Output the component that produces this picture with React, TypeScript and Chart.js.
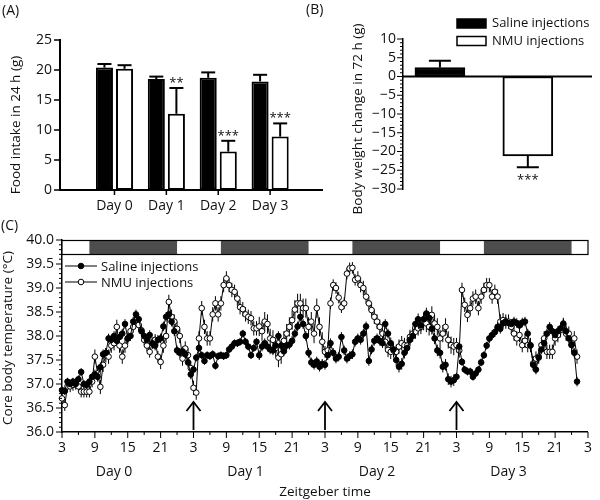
import React, { useEffect, useRef } from "react";
import { Chart, registerables } from "chart.js";

Chart.register(...registerables);

const FONT_FAMILY = '"Open Sans", "Noto Sans", "DejaVu Sans", sans-serif';
const INK = "#111";

// ---------- Panel A: food intake in 24 h ----------
const foodDays = ["Day 0", "Day 1", "Day 2", "Day 3"];
const foodSaline = [20.4, 18.5, 18.7, 18.1];
const foodSalineErr = [0.6, 0.4, 0.9, 1.1];
const foodNmu = [20.2, 12.7, 6.4, 8.9];
const foodNmuErr = [0.6, 4.3, 1.8, 2.2];
const foodNmuStars = ["", "**", "***", "***"];
const foodTicks = [0, 5, 10, 15, 20, 25];

// ---------- Panel B: body weight change in 72 h ----------
const weightGroups = ["Saline injections", "NMU injections"];
const weightChange = [2.4, -21.2];
const weightErr = [1.8, 3.0];
const weightStars = ["", "***"];
const weightTicks = [-30, -25, -20, -15, -10, -5, 0, 5, 10];

// ---------- Panel C: core body temperature ----------
const tempStartZT = 3;
const tempStepHours = 0.5;
const salineTemp = [
  36.87, 36.85, 37.05, 37.0, 37.05, 37.0, 37.1, 37.25, 37.0, 36.98, 37.05, 37.15, 37.2, 37.15, 37.35, 37.62, 37.65, 37.95, 37.92, 38.0, 37.9, 37.98, 38.05, 38.25,
  37.95, 38.0, 38.3, 38.45, 38.35, 38.1, 38.0, 37.92, 38.02, 37.85, 37.8, 37.92, 37.95, 38.2, 38.4, 38.45, 38.3, 38.1, 37.7, 37.65, 37.68, 37.62, 37.45, 37.2,
  37.3, 37.55, 37.75, 37.6, 37.48, 37.6, 37.58, 37.62, 37.38, 37.58, 37.6, 37.58, 37.6, 37.72, 37.78, 37.85, 37.85, 37.88, 38.05, 37.88, 37.78, 37.6, 37.75, 37.88,
  37.6, 37.78, 37.85, 37.78, 37.72, 37.7, 37.8, 38.0, 37.8, 37.68, 37.8, 37.82, 37.9, 38.05, 38.2, 38.4, 38.25, 38.0, 37.65, 37.45, 37.4, 37.47, 37.36, 37.42,
  37.4, 37.6, 37.85, 37.65, 37.53, 37.57, 37.98, 37.7, 37.53, 37.58, 37.62, 37.88, 37.95, 37.92, 38.05, 38.2, 37.48, 37.72, 37.9, 37.95, 37.9, 37.85, 38.25, 38.05,
  37.85, 37.72, 37.5, 37.36, 37.42, 37.65, 37.75, 37.92, 38.0, 38.25, 38.35, 38.22, 38.35, 38.47, 38.38, 38.15, 37.95, 37.7, 37.65, 37.36, 37.4, 37.1, 37.05, 37.08,
  37.15, 37.78, 37.46, 37.3, 37.26, 37.26, 37.15, 37.22, 37.3, 37.45, 37.6, 37.8, 37.95, 38.02, 38.08, 38.19, 38.15, 38.27, 38.3, 38.27, 38.25, 38.3, 38.27, 38.22,
  38.28, 38.3, 38.05, 37.8, 37.4, 37.3, 37.55, 37.72, 37.85, 38.05, 38.19, 38.1, 38.02, 38.1, 38.16, 38.26, 38.1, 37.95, 37.82, 37.65, 37.05,
];
const nmuTemp = [
  36.7, 36.56, 36.95, 36.95, 36.98, 37.0, 36.95, 36.84, 36.84, 36.84, 36.84, 37.05, 37.57, 37.22, 36.94, 37.4, 37.6, 37.57, 37.8, 37.85, 38.19, 37.8, 37.57, 37.8,
  37.95, 38.1, 38.19, 38.33, 38.23, 38.12, 37.92, 37.8, 37.67, 37.85, 37.92, 37.57, 37.46, 37.8, 38.0, 38.71, 38.4, 38.3, 38.15, 38.0, 37.53, 37.74, 37.6, 37.33,
  36.92, 36.82, 37.95, 38.58, 38.19, 37.95, 37.95, 38.45, 38.68, 38.45, 38.68, 39.06, 39.2, 39.06, 38.96, 38.92, 38.78, 38.6, 38.56, 38.45, 38.4, 38.37, 38.16, 38.16,
  38.2, 38.1, 38.3, 38.25, 37.95, 37.92, 37.75, 37.55, 37.62, 37.9, 38.05, 38.19, 38.33, 38.55, 38.68, 38.68, 38.58, 38.58, 38.19, 38.3, 38.05, 38.58, 38.19, 37.88,
  37.67, 37.7, 38.68, 39.06, 39.0, 38.8, 38.6, 38.68, 39.3, 39.41, 39.42, 39.17, 39.2, 39.06, 39.0, 38.82, 38.68, 38.54, 38.4, 38.3, 38.19, 38.05, 37.88, 37.71,
  37.67, 37.7, 37.67, 37.78, 37.85, 37.81, 37.8, 37.98, 38.05, 38.09, 38.16, 38.19, 38.3, 38.26, 38.19, 38.44, 38.26, 38.19, 37.95, 38.05, 38.19, 37.92, 37.81, 37.78,
  37.81, 37.7, 38.96, 38.65, 38.44, 38.58, 38.78, 38.82, 38.58, 38.82, 38.96, 39.06, 39.06, 38.82, 38.92, 38.82, 38.3, 38.33, 38.3, 38.3, 38.19, 38.05, 37.95, 38.02,
  37.81, 37.9, 37.81, 37.81, 37.43, 37.53, 37.57, 37.81, 37.95, 37.67, 37.67, 37.67, 37.95, 38.02, 38.12, 38.23, 38.05, 38.05, 37.81, 37.95, 37.57,
];
// typical SEM read per 6-hour block
const semBlockHours = 6;
const salineSem = [0.08, 0.1, 0.1, 0.1, 0.08, 0.08, 0.1, 0.1, 0.1, 0.1, 0.12, 0.12, 0.08, 0.1, 0.1, 0.1];
const nmuSem = [0.12, 0.15, 0.12, 0.15, 0.15, 0.15, 0.2, 0.2, 0.12, 0.15, 0.15, 0.18, 0.15, 0.15, 0.15, 0.15];
const tempTicks = [36, 36.5, 37, 37.5, 38, 38.5, 39, 39.5, 40];
const tempMinorStep = 0.1;
const ztTicks = [3, 9, 15, 21, 27, 33, 39, 45, 51, 57, 63, 69, 75, 81, 87, 93, 99];
const ztMinorStep = 3;
const darkPhases = [[8, 24], [32, 48], [56, 72], [80, 96]];
const injectionZT = [27, 51, 75];
const dayLabels = ["Day 0", "Day 1", "Day 2", "Day 3"];
const dayLabelZT = 12.5;

// ---------- helpers ----------
function seg(ctx: any, x1: number, y1: number, x2: number, y2: number, w: number) {
  ctx.lineWidth = w;
  ctx.beginPath();
  ctx.moveTo(x1, y1);
  ctx.lineTo(x2, y2);
  ctx.stroke();
}

function text(ctx: any, s: string, x: number, y: number, size: number, align: string = "center", rotate = false) {
  ctx.save();
  ctx.font = `${size}px ${FONT_FAMILY}`;
  ctx.fillStyle = INK;
  ctx.textAlign = align;
  ctx.textBaseline = "middle";
  ctx.translate(x, y);
  if (rotate) ctx.rotate(-Math.PI / 2);
  ctx.fillText(s, 0, 0);
  ctx.restore();
}

const tickFont = { family: FONT_FAMILY, size: 14 };

// ---------- plugins ----------
const panelAPlugin = {
  id: "panelA",
  afterDraw(chart: any) {
    const { ctx, chartArea: ca } = chart;
    const xs = chart.scales.x;
    const ys = chart.scales.y;
    ctx.save();
    ctx.strokeStyle = "#000";
    foodTicks.forEach((v) => {
      const py = ys.getPixelForValue(v);
      seg(ctx, ca.left - 6, py, ca.left, py, 1.5);
    });
    foodDays.forEach((_, i) => {
      const px = xs.getPixelForValue(i);
      seg(ctx, px, ca.bottom, px, ca.bottom + 5, 1.5);
    });
    const vals = [foodSaline, foodNmu];
    const errs = [foodSalineErr, foodNmuErr];
    vals.forEach((arr, di) => {
      const meta = chart.getDatasetMeta(di);
      meta.data.forEach((el: any, i: number) => {
        const yTop = ys.getPixelForValue(arr[i] + errs[di][i]);
        const yBar = ys.getPixelForValue(arr[i]);
        seg(ctx, el.x, yBar, el.x, yTop, 2);
        seg(ctx, el.x - 7, yTop, el.x + 7, yTop, 2);
        if (di === 1 && foodNmuStars[i]) text(ctx, foodNmuStars[i], el.x, yTop - 5, 13);
      });
    });
    ctx.restore();
    text(ctx, "Food intake in 24 h (g)", 16, 125, 13.5, "center", true);
    text(ctx, "(A)", 2, 11, 14, "left");
  },
};

const panelBPlugin = {
  id: "panelB",
  afterDraw(chart: any) {
    const { ctx, chartArea: ca } = chart;
    const ys = chart.scales.y;
    ctx.save();
    ctx.strokeStyle = "#000";
    for (let v = weightTicks[0]; v <= weightTicks[weightTicks.length - 1]; v += 1) {
      const py = ys.getPixelForValue(v);
      seg(ctx, ca.left - (v % 5 === 0 ? 6 : 3), py, ca.left, py, 1);
    }
    const y0 = ys.getPixelForValue(0);
    seg(ctx, ca.left, y0, ca.right, y0, 2);
    weightChange.forEach((v, i) => {
      const el = chart.getDatasetMeta(i).data[0];
      const end = v >= 0 ? v + weightErr[i] : v - weightErr[i];
      const yEnd = ys.getPixelForValue(end);
      seg(ctx, el.x, ys.getPixelForValue(v), el.x, yEnd, 2);
      seg(ctx, el.x - 11, yEnd, el.x + 11, yEnd, 2);
      if (weightStars[i]) text(ctx, weightStars[i], el.x, yEnd + 13, 13);
    });
    // legend
    const fills = ["#000", "#fff"];
    weightGroups.forEach((g, i) => {
      const y = 23.5 + i * 17.5;
      ctx.fillStyle = fills[i];
      ctx.fillRect(157, y - 4.5, 29, 9);
      ctx.lineWidth = 1.5;
      ctx.strokeRect(157, y - 4.5, 29, 9);
      text(ctx, g, 192, y, 13, "left");
    });
    ctx.restore();
    text(ctx, "Body weight change in 72 h (g)", 58, 119, 13.5, "center", true);
    text(ctx, "(B)", 6, 10, 14, "left");
  },
};

const panelCPlugin = {
  id: "panelC",
  beforeDatasetsDraw(chart: any) {
    const { ctx } = chart;
    const ys = chart.scales.y;
    ctx.save();
    ctx.strokeStyle = "#000";
    const series = [
      [salineTemp, salineSem],
      [nmuTemp, nmuSem],
    ];
    series.forEach(([vals, sem]: any, di: number) => {
      const meta = chart.getDatasetMeta(di);
      meta.data.forEach((pt: any, i: number) => {
        const s = sem[Math.min(sem.length - 1, Math.floor((i * tempStepHours) / semBlockHours))];
        seg(ctx, pt.x, ys.getPixelForValue(vals[i] - s), pt.x, ys.getPixelForValue(vals[i] + s), 1);
      });
    });
    ctx.restore();
  },
  afterDraw(chart: any) {
    const { ctx, chartArea: ca } = chart;
    const xs = chart.scales.x;
    const ys = chart.scales.y;
    ctx.save();
    ctx.strokeStyle = "#000";
    // y ticks
    const nY = Math.round((ys.max - ys.min) / tempMinorStep);
    for (let k = 0; k <= nY; k++) {
      const py = ys.getPixelForValue(ys.min + k * tempMinorStep);
      seg(ctx, ca.left - (k % 5 === 0 ? 6 : 3), py, ca.left, py, 1);
    }
    // x ticks
    for (let h = xs.min; h <= xs.max; h += ztMinorStep) {
      const px = xs.getPixelForValue(h);
      const major = ztTicks.includes(h);
      seg(ctx, px, ca.bottom, px, ca.bottom + (major ? 6 : 3), 1);
    }
    // light / dark bar
    const barH = 14;
    ctx.fillStyle = "#fff";
    ctx.fillRect(ca.left, ca.top, ca.right - ca.left, barH);
    ctx.fillStyle = "#4d4d4d";
    darkPhases.forEach(([a, b]) => {
      const x1 = xs.getPixelForValue(Math.max(a, xs.min));
      const x2 = xs.getPixelForValue(Math.min(b, xs.max));
      ctx.fillRect(x1, ca.top, x2 - x1, barH);
    });
    ctx.lineWidth = 1.2;
    ctx.strokeRect(ca.left, ca.top + 0.5, ca.right - ca.left, barH);
    // arrows
    injectionZT.forEach((zt) => {
      const px = xs.getPixelForValue(zt);
      const yb = ca.bottom - 2;
      const yt = ca.bottom - 30;
      seg(ctx, px, yb, px, yt, 1.8);
      ctx.beginPath();
      ctx.moveTo(px - 7, yt + 9);
      ctx.lineTo(px, yt);
      ctx.lineTo(px + 7, yt + 9);
      ctx.stroke();
    });
    // legend
    const fills = ["#000", "#fff"];
    chart.data.datasets.forEach((ds: any, i: number) => {
      const y = 66 + i * 16;
      ctx.strokeStyle = "#000";
      seg(ctx, 65, y, 97, y, 1);
      ctx.beginPath();
      ctx.arc(81, y, 2.8, 0, Math.PI * 2);
      ctx.fillStyle = fills[i];
      ctx.fill();
      ctx.lineWidth = 1;
      ctx.stroke();
      text(ctx, ds.label, 101, y + 1, 13, "left");
    });
    ctx.restore();
    dayLabels.forEach((d, i) => text(ctx, d, xs.getPixelForValue(dayLabelZT + 24 * i), ca.bottom + 40, 14));
    text(ctx, "Zeitgeber time", (ca.left + ca.right) / 2, 292, 13.5);
    text(ctx, "Core body temperature (\u00B0C)", 8, 138, 13.5, "center", true);
    text(ctx, "(C)", 1, 26, 14, "left");
  },
};

// ---------- chart builders ----------
function makeA(canvas: HTMLCanvasElement) {
  const common = { borderColor: "#000", borderWidth: 2, borderSkipped: false, categoryPercentage: 0.774, barPercentage: 0.85 };
  return new Chart(canvas, {
    type: "bar",
    data: {
      datasets: [
        { label: "Saline injections", data: foodSaline.map((v, i) => ({ x: i, y: v })), backgroundColor: "#000", ...common },
        { label: "NMU injections", data: foodNmu.map((v, i) => ({ x: i, y: v })), backgroundColor: "#fff", ...common },
      ],
    } as any,
    options: {
      animation: false,
      responsive: false,
      events: [],
      layout: { padding: { top: 40, right: 8, left: 0, bottom: 0 } },
      plugins: { legend: { display: false }, tooltip: { enabled: false } },
      scales: {
        x: {
          type: "linear",
          offset: false,
          min: -1.05,
          max: 4.0,
          afterBuildTicks: (s: any) => {
            s.ticks = foodDays.map((_, i) => ({ value: i }));
          },
          afterFit: (s: any) => {
            s.height = 25;
          },
          ticks: { callback: (v: any) => foodDays[v] ?? "", padding: 8, font: tickFont, color: INK, autoSkip: false, maxRotation: 0 },
          grid: { display: false, drawTicks: false },
          border: { display: true, color: "#000", width: 2 },
        },
        y: {
          min: 0,
          max: 25,
          afterBuildTicks: (s: any) => {
            s.ticks = foodTicks.map((v) => ({ value: v }));
          },
          afterFit: (s: any) => {
            s.width = 60;
          },
          ticks: { padding: 8, font: tickFont, color: INK, autoSkip: false },
          grid: { display: false, drawTicks: false },
          border: { display: true, color: "#000", width: 2 },
        },
      },
    } as any,
    plugins: [panelAPlugin],
  });
}

function makeB(canvas: HTMLCanvasElement) {
  return new Chart(canvas, {
    type: "bar",
    data: {
      datasets: weightGroups.map((g, i) => ({
        label: g,
        data: [{ x: i, y: weightChange[i] }],
        backgroundColor: i === 0 ? "#000" : "#fff",
        borderColor: "#000",
        borderWidth: 2,
        borderSkipped: false,
        barThickness: 50,
        grouped: false,
      })),
    } as any,
    options: {
      animation: false,
      responsive: false,
      events: [],
      layout: { padding: { top: 39, right: 8, left: 50, bottom: 0 } },
      plugins: { legend: { display: false }, tooltip: { enabled: false } },
      scales: {
        x: {
          type: "linear",
          offset: false,
          min: -0.42,
          max: 1.73,
          afterFit: (s: any) => {
            s.height = 36;
          },
          ticks: { display: false },
          grid: { display: false, drawTicks: false },
          border: { display: false },
        },
        y: {
          min: -30,
          max: 10,
          afterBuildTicks: (s: any) => {
            s.ticks = weightTicks.map((v) => ({ value: v }));
          },
          afterFit: (s: any) => {
            s.width = 53;
          },
          ticks: {
            padding: 7,
            font: tickFont,
            color: INK,
            autoSkip: false,
            callback: (v: any) => (v < 0 ? "\u2212" + Math.abs(v) : String(v)),
          },
          grid: { display: false, drawTicks: false },
          border: { display: true, color: "#000", width: 1.5 },
        },
      },
    } as any,
    plugins: [panelBPlugin],
  });
}

function makeC(canvas: HTMLCanvasElement) {
  const toPoints = (arr: number[]) => arr.map((v, i) => ({ x: tempStartZT + i * tempStepHours, y: v }));
  return new Chart(canvas, {
    type: "line",
    data: {
      datasets: [
        {
          label: "Saline injections",
          data: toPoints(salineTemp),
          borderColor: "#000",
          borderWidth: 1,
          pointRadius: 2.8,
          pointBackgroundColor: "#000",
          pointBorderColor: "#000",
          pointBorderWidth: 1,
          clip: false,
        },
        {
          label: "NMU injections",
          data: toPoints(nmuTemp),
          borderColor: "#000",
          borderWidth: 1,
          pointRadius: 2.8,
          pointBackgroundColor: "#fff",
          pointBorderColor: "#000",
          pointBorderWidth: 1,
          clip: false,
        },
      ],
    } as any,
    options: {
      animation: false,
      responsive: false,
      events: [],
      layout: { padding: { top: 40, right: 6, left: 0, bottom: 0 } },
      plugins: { legend: { display: false }, tooltip: { enabled: false } },
      scales: {
        x: {
          type: "linear",
          min: ztTicks[0],
          max: ztTicks[ztTicks.length - 1],
          afterBuildTicks: (s: any) => {
            s.ticks = ztTicks.map((v) => ({ value: v }));
          },
          afterFit: (s: any) => {
            s.height = 68;
          },
          ticks: { callback: (v: any) => String(((v % 24) + 24) % 24), padding: 8, font: tickFont, color: INK, autoSkip: false, maxRotation: 0 },
          grid: { display: false, drawTicks: false },
          border: { display: true, color: "#000", width: 1.5 },
        },
        y: {
          min: tempTicks[0],
          max: tempTicks[tempTicks.length - 1],
          afterBuildTicks: (s: any) => {
            s.ticks = tempTicks.map((v) => ({ value: v }));
          },
          afterFit: (s: any) => {
            s.width = 62;
          },
          ticks: { callback: (v: any) => Number(v).toFixed(1), padding: 8, font: tickFont, color: INK, autoSkip: false },
          grid: { display: false, drawTicks: false },
          border: { display: true, color: "#000", width: 1.5 },
        },
      },
    } as any,
    plugins: [panelCPlugin],
  });
}

export default function App() {
  const aRef = useRef<HTMLCanvasElement>(null);
  const bRef = useRef<HTMLCanvasElement>(null);
  const cRef = useRef<HTMLCanvasElement>(null);

  useEffect(() => {
    const charts = [makeA(aRef.current!), makeB(bRef.current!), makeC(cRef.current!)];
    return () => charts.forEach((c) => c.destroy());
  }, []);

  return (
    <div style={{ position: "fixed", left: 0, top: 0, width: 600, height: 500, background: "#fff" }}>
      <canvas ref={aRef} width={330} height={215} style={{ position: "absolute", left: 0, top: 0, width: 330, height: 215 }} />
      <canvas ref={cRef} width={600} height={300} style={{ position: "absolute", left: 0, top: 200, width: 600, height: 300 }} />
      <canvas ref={bRef} width={300} height={225} style={{ position: "absolute", left: 300, top: 0, width: 300, height: 225 }} />
    </div>
  );
}
